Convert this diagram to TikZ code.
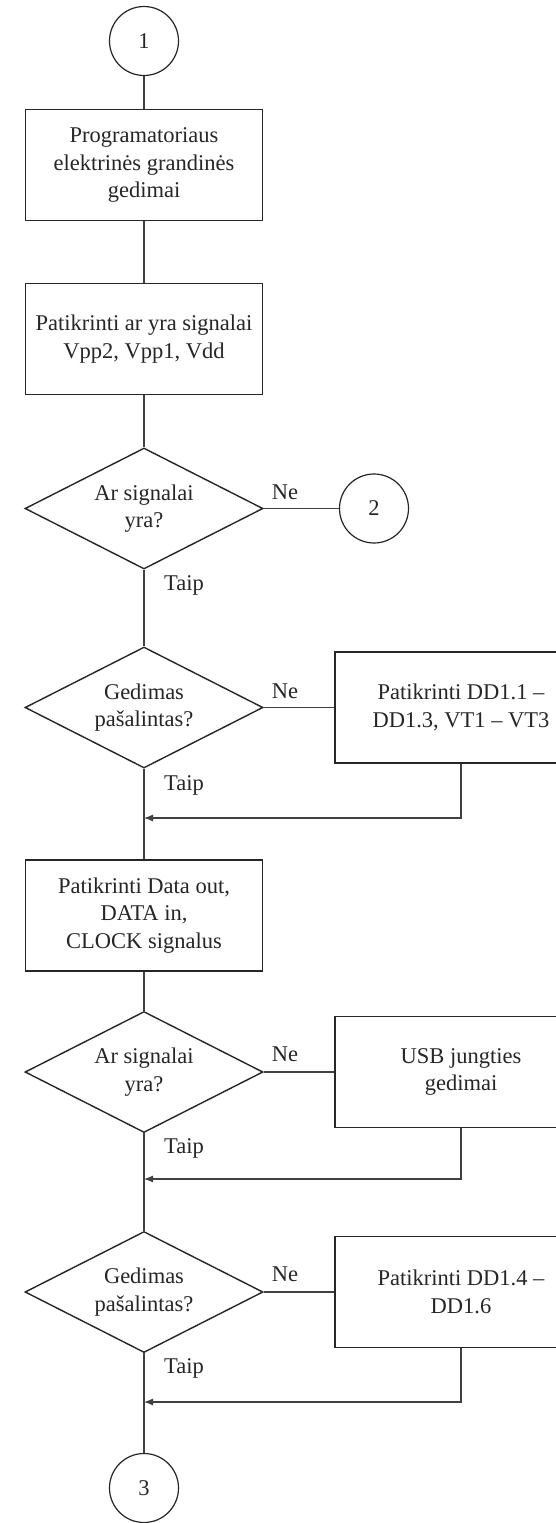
\documentclass[tikz,border=0pt]{standalone}
\usepackage{fontspec}
\setmainfont{Liberation Serif}
\usetikzlibrary{shapes.geometric,arrows.meta}
\begin{document}
\begin{tikzpicture}[x=1pt,y=-1pt,
  every node/.style={font=\fontsize{22.5}{27.5}\selectfont, text=black!85},
  proc/.style={draw=black!85, line width=1.4pt, rectangle, minimum width=237pt, minimum height=111pt, align=center, inner sep=0pt},
  side/.style={proc, minimum width=252pt},
  dec/.style={draw=black!85, line width=1.4pt, diamond, aspect=2, minimum width=238pt, minimum height=121pt, align=center, inner sep=0pt},
  con/.style={draw=black!85, line width=1.2pt, circle, minimum size=69pt, inner sep=0pt},
  conn/.style={draw=black!75, line width=1.1pt},
  merge/.style={conn, -{Latex[length=9pt,width=7pt]}},
  lbl/.style={inner sep=0pt}
]
\useasboundingbox (0,0) rectangle (556,1523);
\fill[white] (0,0) rectangle (556,1523);

\node[con] (c1) at (144,41) {1};
\node[proc] (b1) at (144,165) {Programatoriaus\\elektrinės grandinės\\gedimai};
\node[proc] (b2) at (144,339) {Patikrinti ar yra signalai\\Vpp2, Vpp1, Vdd};
\node[dec] (d1) at (144,508.5) {Ar signalai\\yra?};
\node[con] (c2) at (374,508.5) {2};
\node[dec] (d2) at (144,707.5) {Gedimas\\pašalintas?};
\node[side] (b3) at (461,707.5) {Patikrinti DD1.1 –\\DD1.3, VT1 – VT3};
\coordinate (m1) at (144,818);
\node[proc] (b4) at (144,915.5) {Patikrinti Data out,\\DATA in,\\CLOCK signalus};
\node[dec] (d3) at (144,1072) {Ar signalai\\yra?};
\node[side] (b5) at (461,1072) {USB jungties\\gedimai};
\coordinate (m2) at (144,1179);
\node[dec] (d4) at (144,1292) {Gedimas\\pašalintas?};
\node[side] (b6) at (461,1292) {Patikrinti DD1.4 –\\DD1.6};
\coordinate (m3) at (144,1402);
\node[con] (c3) at (144,1488) {3};

\draw[conn] (c1) -- (b1);
\draw[conn] (b1) -- (b2);
\draw[conn] (b2) -- (d1);
\draw[conn] (d1) -- (c2);
\draw[conn] (d1) -- (d2);
\draw[conn] (d2) -- (b3);
\draw[conn] (d2) -- (b4);
\draw[merge] (b3.south) |- (m1);
\draw[conn] (b4) -- (d3);
\draw[conn] (d3) -- (b5);
\draw[conn] (d3) -- (d4);
\draw[merge] (b5.south) |- (m2);
\draw[conn] (d4) -- (b6);
\draw[conn] (d4) -- (c3);
\draw[merge] (b6.south) |- (m3);

\node[lbl] (ne1) at (285,492) {Ne};
\node[lbl] (ta1) at (184,585) {Taip};
\node[lbl] (ne2) at (285,691) {Ne};
\node[lbl] (ta2) at (184,785) {Taip};
\node[lbl] (ne3) at (285,1054) {Ne};
\node[lbl] (ta3) at (184,1148) {Taip};
\node[lbl] (ne4) at (285,1274) {Ne};
\node[lbl] (ta4) at (184,1368) {Taip};
\end{tikzpicture}
\end{document}
